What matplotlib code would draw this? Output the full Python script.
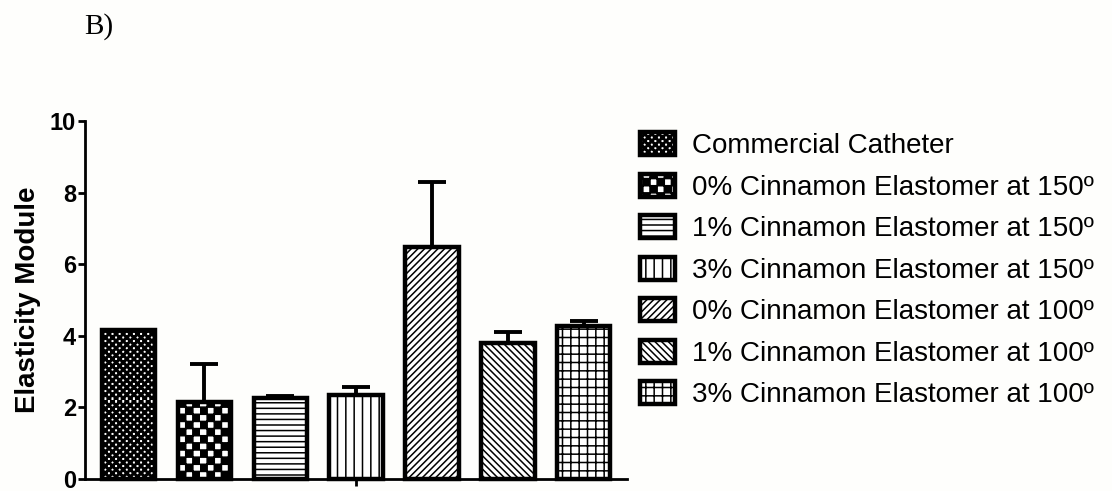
import matplotlib
matplotlib.use("Agg")
import matplotlib.pyplot as plt
import numpy as np
from matplotlib import hatch as mhatch
from matplotlib.path import Path

groups = [
    "Commercial Catheter",
    "0% Cinnamon Elastomer at 150º",
    "1% Cinnamon Elastomer at 150º",
    "3% Cinnamon Elastomer at 150º",
    "0% Cinnamon Elastomer at 100º",
    "1% Cinnamon Elastomer at 100º",
    "3% Cinnamon Elastomer at 100º",
]
means = [4.16, 2.15, 2.26, 2.35, 6.48, 3.80, 4.27]
errors = [0.0, 1.06, 0.05, 0.22, 1.82, 0.30, 0.14]
hatches = ["cc", "c", "---", "||", "/////", "\\\\\\\\\\", "++"]


class CheckerHatch(mhatch.HatchPatternBase):
    # filled checkerboard squares, 'c' = coarse, 'cc' = fine
    def __init__(self, hatch, density):
        k = hatch.count("c")
        self.cells = 14 * k
        self.squares = [(i, j) for i in range(self.cells) for j in range(self.cells)
                        if (i + j) % 2 == 0] if k else []
        self.num_vertices = len(self.squares) * 5

    def set_vertices_and_codes(self, vertices, codes):
        s = 1.0 / self.cells
        for n, (i, j) in enumerate(self.squares):
            x0, y0 = i * s, j * s
            vertices[n * 5:(n + 1) * 5] = [(x0, y0), (x0 + s, y0), (x0 + s, y0 + s),
                                           (x0, y0 + s), (x0, y0)]
            codes[n * 5] = Path.MOVETO
            codes[n * 5 + 1:n * 5 + 4] = Path.LINETO
            codes[n * 5 + 4] = Path.CLOSEPOLY


mhatch._hatch_types.append(CheckerHatch)

plt.rcParams.update({
    "font.family": ["Liberation Sans", "DejaVu Sans"],
    "hatch.linewidth": 1.1,
})

bg = "#fefefc"
fig = plt.figure(figsize=(11.12, 4.91), dpi=100, facecolor=bg)
ax = fig.add_axes([0.0764, 0.0244, 0.4876, 0.7292], facecolor=bg)

x = np.arange(len(means))
bars = ax.bar(x, means, width=0.7, color="white", edgecolor="black",
              linewidth=3.2, zorder=3, clip_on=False)
for b, h, lab in zip(bars, hatches, groups):
    b.set_hatch(h)
    b.set_label(lab)

ax.errorbar(x, means, yerr=[np.zeros(len(errors)), errors], fmt="none",
            ecolor="black", elinewidth=2.8, capsize=10, capthick=2.8, zorder=2)

ax.set_xlim(-0.57, 6.57)
ax.set_ylim(0, 10)
ax.set_yticks([0, 2, 4, 6, 8, 10])
ax.set_xticks([3])
ax.set_xticklabels([""])
for s in ["top", "right"]:
    ax.spines[s].set_visible(False)
for s in ["left", "bottom"]:
    ax.spines[s].set_linewidth(2)
ax.tick_params(axis="both", width=2, length=5, pad=1.5)
for t in ax.get_yticklabels():
    t.set_fontsize(17)
    t.set_fontweight("bold")
ax.set_ylabel("Elasticity Module", fontsize=20, fontweight="bold", labelpad=6)

ax.legend(handles=list(bars), loc="upper left", frameon=False, fontsize=20,
          bbox_to_anchor=(640 / 1112, 1 - 132 / 491), bbox_transform=fig.transFigure,
          borderpad=0, borderaxespad=0, handlelength=1.27, handleheight=0.9,
          handletextpad=0.62, labelspacing=0.52)

fig.text(84 / 1112, 1 - 34 / 491, "B)", fontsize=21,
         family=["Liberation Serif", "DejaVu Serif"], ha="left", va="baseline")

fig.savefig("out.png", dpi=100, facecolor=bg)
